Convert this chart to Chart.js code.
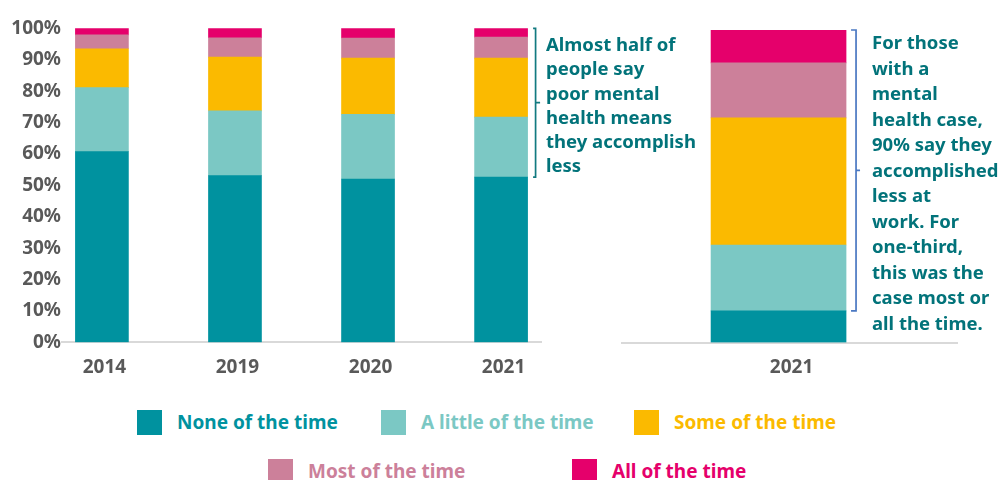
<!DOCTYPE html>
<html>
<head>
<meta charset="utf-8">
<script src="https://cdn.jsdelivr.net/npm/chart.js@4.4.1/dist/chart.umd.min.js"></script>
<style>
  body { margin: 0; background: #fff; font-family: "Noto Sans", sans-serif; font-weight: 700; }
  #wrap { position: relative; width: 1003px; height: 480px; overflow: hidden; }
  canvas { position: absolute; top: 0; }
  .note { position: absolute; color: #02737a; font-size: 18.5px; white-space: nowrap; }
  .key { position: absolute; display: flex; align-items: center; font-size: 19px; line-height: 25px; white-space: nowrap; }
  .key i { display: block; width: 25px; height: 25px; margin-right: 15px; }
</style>
</head>
<body>
<div id="wrap">
  <canvas id="trend" width="548" height="400" style="left:0"></canvas>
  <canvas id="work" width="370" height="400" style="left:600px"></canvas>
  <div class="note" style="left:546px; top:32px; line-height:24.3px">Almost half of<br>people say<br>poor mental<br>health means<br>they accomplish<br>less</div>
  <div class="note" style="left:872px; top:29px; line-height:25.5px">For those<br>with a<br>mental<br>health case,<br>90% say they<br>accomplished<br>less at<br>work. For<br>one-third,<br>this was the<br>case most or<br>all the time.</div>
  <div id="legend"></div>
</div>
<script>
// share of people (%) by how often poor mental health meant they accomplished less
const years = ['2014', '2019', '2020', '2021'];
const noneOfTheTime = [60.7, 53.1, 52.0, 52.6];
const littleOfTheTime = [20.4, 20.6, 20.6, 19.1];
const someOfTheTime = [12.4, 17.1, 17.9, 18.8];
const mostOfTheTime = [4.4, 6.2, 6.4, 6.7];
const allOfTheTime = [2.1, 3.0, 3.1, 2.8];

// at work, 2021 (same series order)
const workYear = ['2021'];
const workShares = [10.1, 21.1, 40.7, 17.6, 10.5];

const seriesNames = ['None of the time', 'A little of the time', 'Some of the time', 'Most of the time', 'All of the time'];
const seriesColors = ['#00929f', '#7bc8c4', '#fbba00', '#cc809a', '#e5006b'];

const tickFont = { family: '"Noto Sans", sans-serif', size: 19, weight: 'bold' };
const tickColor = '#595959';

// bracket next to the last bar, from the top of the stack down to the top of the first segment
const bracketPlugin = {
  id: 'bracket',
  afterDatasetsDraw(chart, args, opts) {
    const y = chart.scales.y;
    const first = chart.getDatasetMeta(0).data;
    const bar = first[first.length - 1];
    const x = bar.x + bar.width / 2 + opts.gap;
    const top = y.getPixelForValue(100);
    const bottom = y.getPixelForValue(opts.from);
    const mid = (top + bottom) / 2;
    const ctx = chart.ctx;
    ctx.save();
    ctx.strokeStyle = opts.color;
    ctx.lineWidth = 1.7;
    ctx.beginPath();
    ctx.moveTo(x - opts.end, top);
    ctx.lineTo(x, top);
    ctx.lineTo(x, bottom);
    ctx.lineTo(x - opts.end, bottom);
    ctx.moveTo(x, mid);
    ctx.lineTo(x + opts.tip, mid);
    ctx.stroke();
    ctx.restore();
  }
};

function stackedChart(id, labels, series, cfg) {
  const datasets = series.map((values, s) => ({
    label: seriesNames[s],
    data: values.map((v, i) => ({ x: i, y: v })),
    backgroundColor: seriesColors[s],
    barThickness: cfg.barThickness
  }));

  return new Chart(document.getElementById(id), {
    type: 'bar',
    data: { datasets },
    options: {
      responsive: false,
      animation: false,
      layout: { padding: cfg.padding },
      plugins: {
        legend: { display: false },
        tooltip: { enabled: false },
        bracket: cfg.bracket
      },
      scales: {
        x: {
          type: 'linear',
          stacked: true,
          offset: false,
          min: cfg.xRange[0],
          max: cfg.xRange[1],
          grid: { display: false, drawTicks: false, offset: false },
          border: { color: '#d9d9d9', width: 2 },
          afterBuildTicks: s => { s.ticks = labels.map((_, i) => ({ value: i })); },
          afterFit: s => { s.height = cfg.axisHeight; },
          ticks: {
            font: tickFont,
            color: tickColor,
            padding: 14,
            labelOffset: cfg.labelOffset,
            callback: v => labels[v]
          }
        },
        y: {
          stacked: true,
          min: 0,
          max: 100,
          display: cfg.showY,
          grid: { display: false, drawTicks: false },
          border: { display: false },
          afterFit: s => { s.width = cfg.showY ? 62 : 0; },
          ticks: {
            stepSize: 10,
            font: tickFont,
            color: tickColor,
            padding: 1,
            callback: v => v + '%'
          }
        }
      }
    },
    plugins: [bracketPlugin]
  });
}

stackedChart('trend', years,
  [noneOfTheTime, littleOfTheTime, someOfTheTime, mostOfTheTime, allOfTheTime], {
    padding: { top: 28.3, right: 7 },
    xRange: [-0.3, 3.3],
    axisHeight: 57.7,
    barThickness: 53,
    labelOffset: 2.5,
    showY: true,
    bracket: { from: noneOfTheTime[3], color: '#127a80', gap: 8, end: 2.5, tip: 4.5 }
  });

stackedChart('work', workYear, workShares.map(v => [v]), {
  padding: { top: 30, left: 22, right: 13 },
  xRange: [-1, 1.14],
  axisHeight: 57.5,
  barThickness: 135,
  labelOffset: 13,
  showY: false,
  bracket: { from: workShares[0], color: '#4a78c2', gap: 10, end: 5, tip: 4 }
});

// legend boxes under both charts
const legendSlots = [[137, 410], [381, 410], [634, 410], [268, 459], [572, 459]];
const legend = document.getElementById('legend');
seriesNames.forEach((name, s) => {
  const item = document.createElement('div');
  item.className = 'key';
  item.style.left = legendSlots[s][0] + 'px';
  item.style.top = legendSlots[s][1] + 'px';
  item.style.color = seriesColors[s];
  item.innerHTML = '<i style="background:' + seriesColors[s] + '"></i>' + name;
  legend.appendChild(item);
});
</script>
</body>
</html>
